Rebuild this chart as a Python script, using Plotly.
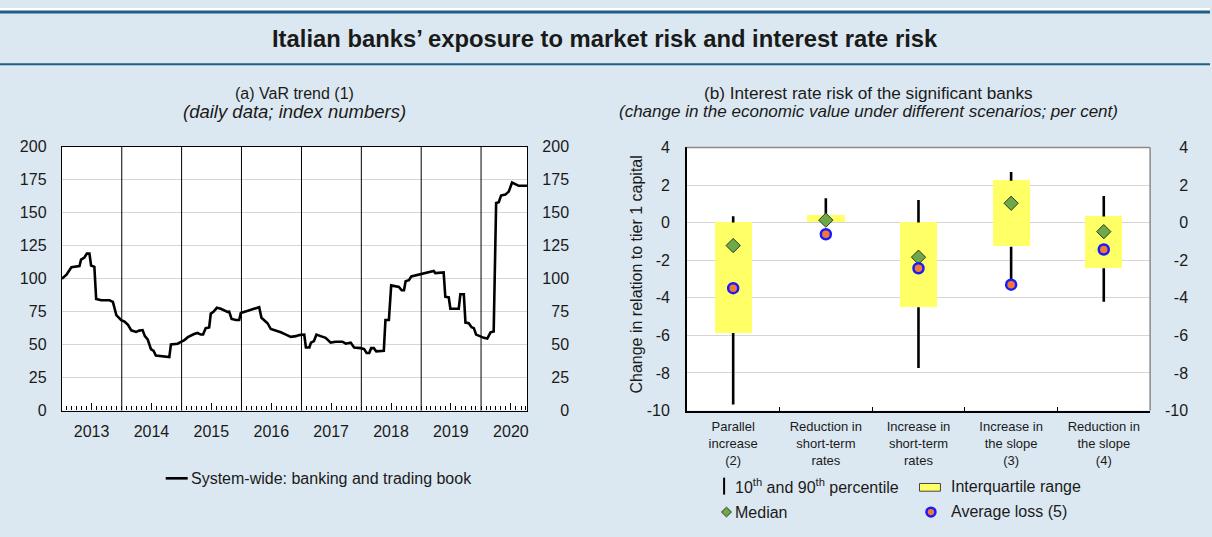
import plotly.graph_objects as go

# ---------------- data ----------------
var_dates = [
    "2013-01-01", "2013-01-29", "2013-02-28", "2013-04-08", "2013-04-18", "2013-04-28", "2013-05-18",
    "2013-06-02", "2013-06-18", "2013-06-28", "2013-07-18", "2013-07-29", "2013-08-29", "2013-10-18",
    "2013-11-08", "2013-11-29", "2013-12-29", "2014-01-18", "2014-02-08", "2014-02-28", "2014-03-29",
    "2014-04-18", "2014-05-08", "2014-05-22", "2014-06-08", "2014-06-28", "2014-07-14", "2014-07-28",
    "2014-09-08", "2014-09-28", "2014-10-18", "2014-10-28", "2014-12-08", "2014-12-28", "2015-01-18",
    "2015-02-08", "2015-02-28", "2015-03-18", "2015-04-08", "2015-04-28", "2015-05-12", "2015-05-28",
    "2015-06-18", "2015-06-28", "2015-07-14", "2015-08-04", "2015-08-28", "2015-09-18", "2015-10-08",
    "2015-10-18", "2015-11-02", "2015-11-28", "2015-12-18", "2015-12-28", "2016-01-28", "2016-02-18",
    "2016-03-08", "2016-03-28", "2016-04-18", "2016-05-02", "2016-05-18", "2016-06-08", "2016-06-28",
    "2016-07-28", "2016-08-28", "2016-09-28", "2016-10-28", "2016-11-28", "2016-12-18", "2017-01-18",
    "2017-01-28", "2017-02-18", "2017-02-28", "2017-03-18", "2017-04-02", "2017-04-28", "2017-05-28",
    "2017-06-28", "2017-07-28", "2017-09-08", "2017-09-28", "2017-10-28", "2017-11-18", "2017-12-28",
    "2018-01-18", "2018-02-02", "2018-02-18", "2018-03-02", "2018-03-18", "2018-04-02", "2018-05-08",
    "2018-05-18", "2018-05-28", "2018-06-18", "2018-07-02", "2018-07-28", "2018-08-18", "2018-09-04",
    "2018-09-18", "2018-09-28", "2018-10-18", "2018-11-02", "2018-11-28", "2018-12-28", "2019-01-28",
    "2019-02-28", "2019-03-18", "2019-03-28", "2019-05-18", "2019-05-28", "2019-06-18", "2019-06-28",
    "2019-08-18", "2019-08-28", "2019-09-18", "2019-09-28", "2019-10-18", "2019-11-04", "2019-11-18",
    "2019-12-02", "2019-12-28", "2020-01-18", "2020-02-08", "2020-02-28", "2020-03-18", "2020-04-02",
    "2020-04-18", "2020-05-02", "2020-05-28", "2020-06-18", "2020-07-08", "2020-07-28", "2020-08-18",
    "2020-10-08",
]
var_values = [
    100, 103, 108.6, 109, 109.5, 114.5, 116,
    119, 119, 110, 109, 84.6, 83.6, 83.6,
    82.4, 72.3, 68.6, 67.4, 65, 60.8, 59.6,
    60.6, 61, 56.4, 54, 46.6, 45.3, 41.7,
    41.2, 40.5, 40.5, 50.2, 50.7, 52, 53.4,
    55.6, 56.9, 58, 58.8, 57.6, 57.6, 62.5,
    63, 73.5, 74.8, 77.9, 77.2, 76, 74.8,
    75, 69.4, 68.6, 68.6, 74, 75.2, 76,
    77.2, 77.9, 78.4, 70.3, 68.6, 66.2, 61.8,
    60.8, 59.3, 57.6, 55.9, 56.4, 57.2, 57.6,
    47.8, 47.8, 51.5, 52.7, 57.6, 56.4, 55.1,
    51.5, 52.2, 52.2, 50.7, 51.5, 47.8, 47.3,
    46.6, 43.6, 43.6, 47.3, 47.3, 44.9, 44.9,
    45.3, 68.6, 68.6, 94.9, 94.4, 93.7, 91.2,
    91.2, 98, 98.8, 101.7, 102.4, 103.4, 104.2,
    105.1, 105.9, 104.2, 104.7, 86.3, 85.8, 77.2,
    77.2, 88.2, 88.2, 66.7, 66.2, 63.2, 62.5,
    57.6, 55.9, 55.1, 54.6, 59.3, 60, 157.4,
    158, 163, 163.7, 166, 172.8, 171.6, 170.4,
    170.4,
]
years = list(range(2013, 2021))
var_ticks = list(range(0, 201, 25))

scenarios = [
    "Parallel<br>increase<br>(2)",
    "Reduction in<br>short-term<br>rates",
    "Increase in<br>short-term<br>rates",
    "Increase in<br>the slope<br>(3)",
    "Reduction in<br>the slope<br>(4)",
]
p10 = [-9.68, 0.0, -7.74, -3.30, -4.21]
q1 = [-5.88, 0.0, -4.50, -1.29, -2.43]
q3 = [0.0, 0.39, 0.0, 2.23, 0.32]
p90 = [0.34, 1.29, 1.20, 2.69, 1.42]
median = [-1.22, 0.13, -1.84, 1.03, -0.48]
avg_loss = [-3.49, -0.62, -2.43, -3.30, -1.43]
irr_ticks = list(range(-10, 5, 2))
irr_ticktext = [str(v) for v in irr_ticks]

# ---------------- styling helpers ----------------
W, H = 1212, 537
FONT = "Liberation Sans, Arial, sans-serif"
TXT = "#1a1a1a"
BG = "#dce8f1"
YELLOW = "#ffff66"
GREEN = "#6fa84a"
ORANGE = "#f07a35"
BLUE = "#1a1aff"
GRID = "#d6d6d6"
NAVY = "#1d5f86"


def px(x):
    return x / W


def py(y):
    return 1 - y / H


fig = go.Figure()

# ---------------- panel (a) ----------------
fig.add_trace(go.Scatter(
    x=var_dates, y=var_values, mode="lines",
    line=dict(color="black", width=2.6), showlegend=False,
    xaxis="x", yaxis="y",
))
fig.add_trace(go.Scatter(
    x=var_dates, y=var_values, mode="lines",
    line=dict(width=0), opacity=0, showlegend=False, hoverinfo="skip",
    xaxis="x", yaxis="y2",
))

# ---------------- panel (b) ----------------
fig.add_trace(go.Bar(
    x=scenarios, y=[b - a for a, b in zip(q1, q3)], base=q1, width=0.4,
    marker=dict(color=YELLOW, line=dict(width=0)), showlegend=False,
    xaxis="x2", yaxis="y3",
))
wx, wy = [], []
for s, a, b, c, d in zip(scenarios, p10, q1, q3, p90):
    wx += [s, s, None, s, s, None]
    wy += [c, d, None, a, b, None]
fig.add_trace(go.Scatter(
    x=wx, y=wy, mode="lines", line=dict(color="black", width=2.6),
    showlegend=False, xaxis="x2", yaxis="y3", connectgaps=False,
))
fig.add_trace(go.Scatter(
    x=scenarios, y=median, mode="markers",
    marker=dict(symbol="diamond", size=11, color=GREEN, line=dict(color="#2b3d1e", width=1)),
    showlegend=False, xaxis="x2", yaxis="y3",
))
fig.add_trace(go.Scatter(
    x=scenarios, y=avg_loss, mode="markers",
    marker=dict(symbol="circle", size=10, color=ORANGE, line=dict(color=BLUE, width=2.5)),
    showlegend=False, xaxis="x2", yaxis="y3",
))
fig.add_trace(go.Scatter(
    x=scenarios, y=median, mode="markers", opacity=0, hoverinfo="skip",
    showlegend=False, xaxis="x2", yaxis="y4",
))

tickfont = dict(family=FONT, size=16, color=TXT)

fig.update_layout(
    width=W, height=H, autosize=False,
    margin=dict(l=0, r=0, t=0, b=0),
    paper_bgcolor=BG, plot_bgcolor="white",
    font=dict(family=FONT, color=TXT),
    showlegend=False,
    xaxis=dict(
        domain=[px(62), px(528)], anchor="y", type="date",
        range=["2013-01-01", "2020-10-08"],
        tickvals=[f"{y}-07-01" for y in years], ticktext=[str(y) for y in years],
        ticks="inside", ticklen=7, tickcolor="black", tickwidth=1,
        minor=dict(dtick="M1", tick0="2013-01-01", ticks="inside", ticklen=4,
                   tickcolor="black", tickwidth=1, showgrid=False),
        showgrid=False, showline=True, linecolor="black", linewidth=1.3, mirror=True,
        tickfont=tickfont, ticklabelstandoff=6,
    ),
    yaxis=dict(
        domain=[py(415.7), py(143.3)], anchor="x", range=[0, 200],
        tickvals=var_ticks, showgrid=True, gridcolor=GRID, gridwidth=1,
        zeroline=False, showline=True, linecolor="black", linewidth=1.3, mirror=True,
        ticks="", tickfont=tickfont, ticklabelstandoff=11,
    ),
    yaxis2=dict(
        overlaying="y", anchor="free", side="left", position=px(570),
        range=[0, 200], tickvals=var_ticks, showgrid=False, zeroline=False,
        showline=False, ticks="", tickfont=tickfont,
    ),
    xaxis2=dict(
        domain=[px(688), px(1152)], anchor="y3", type="category",
        categoryorder="array", categoryarray=scenarios,
        tickson="boundaries", ticks="inside", ticklen=4, tickcolor="black",
        showgrid=False, showline=True, linecolor="black", linewidth=1.6,
        tickfont=dict(family=FONT, size=13, color=TXT), ticklabelstandoff=3,
    ),
    yaxis3=dict(
        domain=[py(415.7), py(144)], anchor="x2", range=[-10, 4],
        tickvals=irr_ticks, ticktext=irr_ticktext, showgrid=True, gridcolor=GRID, gridwidth=1,
        zeroline=False, showline=True, linecolor="black", linewidth=1.6,
        ticks="", tickfont=tickfont, ticklabelstandoff=12,
    ),
    yaxis4=dict(
        overlaying="y3", anchor="free", side="left", position=px(1190),
        range=[-10, 4], tickvals=irr_ticks, ticktext=irr_ticktext,
        showgrid=False, zeroline=False,
        showline=False, ticks="", tickfont=tickfont,
    ),
    bargap=0,
)

shapes = []
# title band
shapes.append(dict(type="rect", xref="paper", yref="paper", x0=0, x1=1, y0=py(3), y1=1,
                   fillcolor="white", line=dict(width=0), layer="below"))
shapes.append(dict(type="line", xref="paper", yref="paper", x0=0, x1=1, y0=py(4.2), y1=py(4.2),
                   line=dict(color=NAVY, width=3)))
shapes.append(dict(type="line", xref="paper", yref="paper", x0=0, x1=1, y0=py(58), y1=py(58),
                   line=dict(color=NAVY, width=2)))
# year separators in panel (a)
for y in years[1:]:
    shapes.append(dict(type="line", xref="x", yref="y domain", x0=f"{y}-01-01", x1=f"{y}-01-01",
                       y0=0, y1=1, line=dict(color="black", width=1)))
# grey top/right frame of panel (b)
shapes.append(dict(type="line", xref="x2 domain", yref="y3 domain", x0=0, x1=1, y0=1, y1=1,
                   line=dict(color="#8a8a8a", width=1.5)))
shapes.append(dict(type="line", xref="x2 domain", yref="y3 domain", x0=1, x1=1, y0=0, y1=1,
                   line=dict(color="#8a8a8a", width=1.5)))

# legend symbols
shapes.append(dict(type="line", xref="paper", yref="paper", x0=px(166), x1=px(188),
                   y0=py(485.7), y1=py(485.7), line=dict(color="black", width=2.6)))
shapes.append(dict(type="line", xref="paper", yref="paper", x0=px(725.3), x1=px(725.3),
                   y0=py(485), y1=py(502.5), line=dict(color="black", width=2)))
shapes.append(dict(type="rect", xref="paper", yref="paper", x0=px(921), x1=px(942),
                   y0=py(499), y1=py(491), fillcolor=YELLOW, line=dict(color="#444444", width=1)))
cx, cy, r = 727.7, 520.5, 5
shapes.append(dict(type="path", xref="paper", yref="paper",
                   path=f"M {px(cx-r)},{py(cy)} L {px(cx)},{py(cy-r)} L {px(cx+r)},{py(cy)} L {px(cx)},{py(cy+r)} Z",
                   fillcolor=GREEN, line=dict(color="#2b3d1e", width=1)))
cx, cy, r = 932.5, 520.5, 4.5
shapes.append(dict(type="circle", xref="paper", yref="paper", x0=px(cx-r), x1=px(cx+r),
                   y0=py(cy+r), y1=py(cy-r), fillcolor=ORANGE, line=dict(color=BLUE, width=2.5)))
fig.update_layout(shapes=shapes)

ann = []


def text(x, y, s, size=16, anchor="center", angle=0):
    ann.append(dict(x=px(x), y=py(y), xref="paper", yref="paper", text=s, showarrow=False,
                    xanchor=anchor, yanchor="middle", textangle=angle,
                    font=dict(family=FONT, size=size, color=TXT)))


text(606, 31.5, "<b>Italian banks’ exposure to market risk and interest rate risk</b>", size=23.8)
text(295, 88, "(a) VaR trend (1)", size=16)
text(295, 107, "<i>(daily data; index numbers)</i>", size=18.5)
text(870, 88, "(b) Interest rate risk of the significant banks", size=17.2)
text(870, 107, "<i>(change in the economic value under different scenarios; per cent)</i>", size=17)
text(637.3, 275, "Change in relation to tier 1 capital", size=16, angle=-90)
text(189, 486, "System-wide: banking and trading book", size=16, anchor="left")
text(734, 493.5, "10<sup>th</sup> and 90<sup>th</sup> percentile", size=16, anchor="left")
text(951, 494, "Interquartile range", size=16, anchor="left")
text(734, 520.5, "Median", size=16, anchor="left")
text(951, 519.5, "Average loss (5)", size=16, anchor="left")
fig.update_layout(annotations=ann)

fig.write_html(
    "out.html",
    config={"displayModeBar": False, "responsive": False},
    post_script=(
        "document.body.style.margin='0';document.body.style.padding='0';"
        "document.documentElement.style.overflow='hidden';"
        "var gd=document.getElementsByClassName('plotly-graph-div')[0];"
        "gd.style.position='fixed';gd.style.top='0px';gd.style.left='0px';"
    ),
)
